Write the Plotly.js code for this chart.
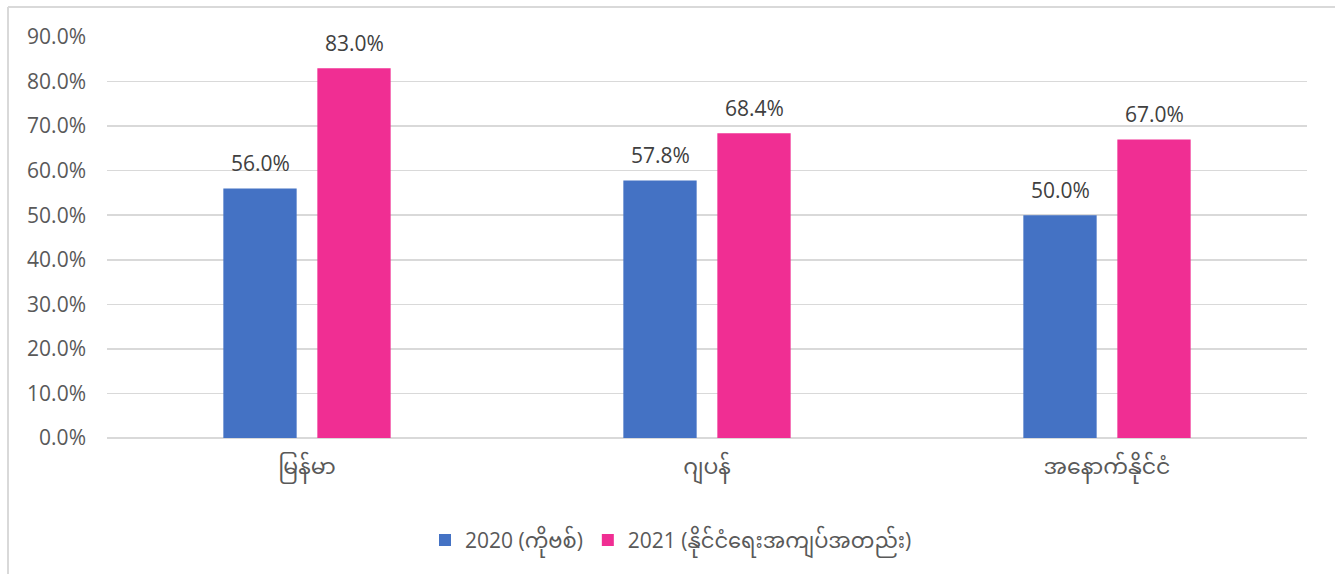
<!DOCTYPE html>
<html>
<head>
<meta charset="utf-8">
<script src="https://cdn.plot.ly/plotly-3.0.1.min.js"></script>
<style>
html,body{margin:0;padding:0;background:#fff;}
#chart{width:1335px;height:574px;}
</style>
</head>
<body>
<div id="chart"></div>
<script>
const categories = ["မြန်မာ", "ဂျပန်", "အနောက်နိုင်ငံ"];
const seriesNames = ["2020 (ကိုဗစ်)", "2021 (နိုင်ငံရေးအကျပ်အတည်း)"];
const values2020 = [56.0, 57.8, 50.0];
const values2021 = [83.0, 68.4, 67.0];
const yTickVals = [0, 10, 20, 30, 40, 50, 60, 70, 80, 90];
const colors = ["#4472C4", "#F02E93"];

const fontFam = "'Open Sans', 'Noto Sans', 'Noto Sans Myanmar', Padauk, 'DejaVu Sans', sans-serif";

const allSeries = [values2020, values2021];
const traces = allSeries.map((vals, i) => ({
  type: 'bar',
  name: seriesNames[i],
  x: categories,
  y: vals,
  marker: {color: colors[i]},
  hoverinfo: 'skip'
}));

const W = 1335, H = 574;
const ml = 107, mr = 28, mt = 37, mb = 136;
const pw = W - ml - mr, ph = H - mt - mb;

const annotations = [];
const slot = (pw / categories.length) * (1 - 0.53) / 2;
allSeries.forEach((vals, i) => {
  vals.forEach((v, j) => {
    annotations.push({
      x: categories[j], y: v, xref: 'x', yref: 'y',
      text: v.toFixed(1) + '%',
      showarrow: false,
      yanchor: 'bottom',
      xshift: (i === 0 ? -1 : 1) * slot / 2,
      yshift: 9,
      font: {family: fontFam, size: 21, color: '#404040'}
    });
  });
});

const layout = {
  width: W, height: H,
  margin: {l: ml, r: mr, t: mt, b: mb},
  paper_bgcolor: '#fff',
  plot_bgcolor: '#fff',
  barmode: 'group',
  bargap: 0.53,
  bargroupgap: 0.22,
  showlegend: true,
  legend: {
    orientation: 'h',
    x: 0.47, xanchor: 'center',
    y: -0.255, yanchor: 'middle',
    font: {family: fontFam, size: 21, color: '#595959'},
    itemwidth: 30,
    tracegroupgap: 0
  },
  xaxis: {
    type: 'category',
    showgrid: false,
    zeroline: false,
    showline: false,
    ticks: '',
    ticklabelstandoff: 13,
    tickfont: {family: fontFam, size: 22, color: '#595959'}
  },
  yaxis: {
    range: [0, 90],
    tickvals: yTickVals,
    ticktext: yTickVals.map(v => v.toFixed(1) + '%'),
    showgrid: true,
    gridcolor: '#d9d9d9',
    gridwidth: 1.5,
    zeroline: true,
    zerolinecolor: '#d9d9d9',
    zerolinewidth: 1.5,
    showline: false,
    ticks: '',
    ticklabelstandoff: 20,
    tickfont: {family: fontFam, size: 21, color: '#595959'}
  },
  annotations: annotations,
  shapes: [
    {type: 'line', xref: 'paper', yref: 'paper',
     x0: (8 - ml) / pw, x1: (W + 5 - ml) / pw,
     y0: (H - mb - 7) / ph, y1: (H - mb - 7) / ph,
     line: {color: '#d9d9d9', width: 2}},
    {type: 'line', xref: 'paper', yref: 'paper',
     x0: (8 - ml) / pw, x1: (8 - ml) / pw,
     y0: (H - mb - 7) / ph, y1: -(mb + 5) / ph,
     line: {color: '#d9d9d9', width: 2}}
  ]
};

Plotly.newPlot('chart', traces, layout, {displayModeBar: false, staticPlot: true});
</script>
</body>
</html>
